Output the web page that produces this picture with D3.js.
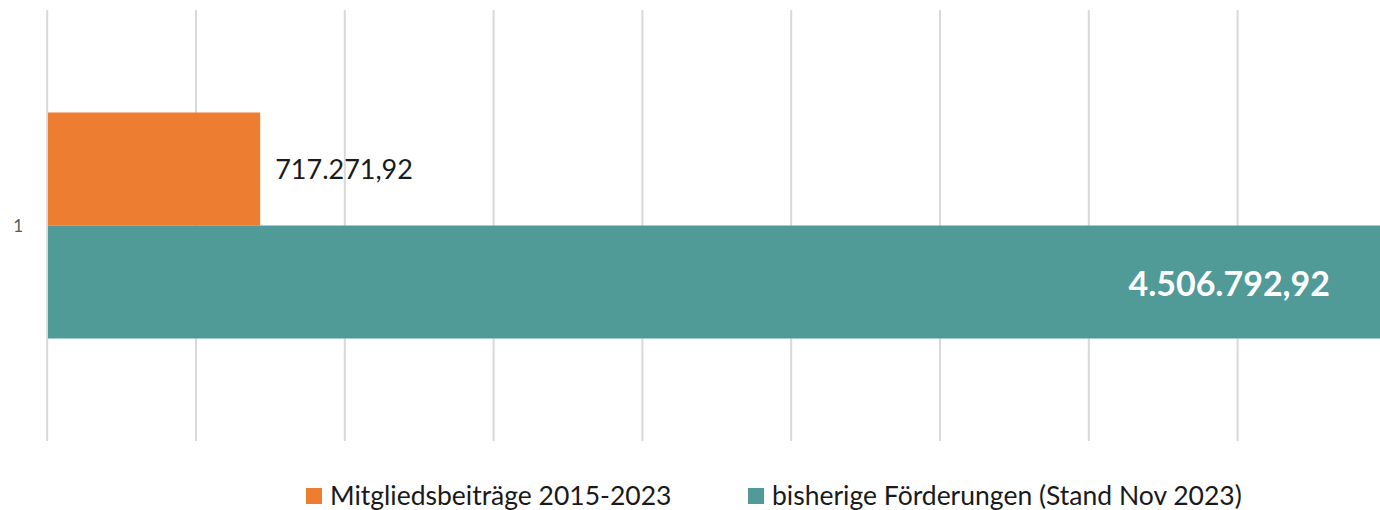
<!DOCTYPE html>
<html>
<head>
<meta charset="utf-8">
<title>Mitgliedsbeiträge und Förderungen</title>
<style>
body { margin: 0; background: #fff; }
svg { display: block; font-family: Lato, 'Open Sans', sans-serif; }
.grid line { stroke: #d9d9d9; stroke-width: 2; }
.grid .domain { display: none; }
</style>
</head>
<body>
<svg></svg>
<script src="https://d3js.org/d3.v7.min.js"></script>
<script>
const categories = ['1'];
const seriesNames = ['Mitgliedsbeiträge 2015-2023', 'bisherige Förderungen (Stand Nov 2023)'];
const seriesValues = [717271.92, 4506792.92];
const colors = ['#ed7d31', '#509a98'];
const xTicks = [0, 500000, 1000000, 1500000, 2000000, 2500000, 3000000, 3500000, 4000000, 4500000];

const width = 1380, height = 510;
const plot = { left: 46.7, right: 46.7 + 148.8 * 10, top: 10, bottom: 441 };

const de = d3.formatLocale({ decimal: ',', thousands: '.', grouping: [3], currency: ['', ' €'] });
const fmt = de.format(',.2f');

const svg = d3.select('svg').attr('width', width).attr('height', height);

const x = d3.scaleLinear([0, 5000000], [plot.left, plot.right]);
const y = d3.scaleBand(categories, [plot.top, plot.bottom]).paddingInner(0).paddingOuter(0.4535);
const ys = d3.scaleBand(d3.range(seriesValues.length), [0, y.bandwidth()]);

// vertical gridlines
svg.append('g')
   .attr('class', 'grid')
   .attr('transform', `translate(0, ${plot.top})`)
   .call(d3.axisBottom(x).tickValues(xTicks).tickSize(plot.bottom - plot.top).tickFormat(''));

// category label
svg.append('g')
   .selectAll('text')
   .data(categories)
   .join('text')
   .attr('x', 23)
   .attr('y', d => y(d) + y.bandwidth() / 2)
   .attr('text-anchor', 'end')
   .attr('dominant-baseline', 'central')
   .attr('fill', '#595959')
   .style('font-size', '17px')
   .text(d => d);

const bars = svg.append('g');
bars.selectAll('rect')
    .data(seriesValues)
    .join('rect')
    .attr('x', x(0) + 1.3)
    .attr('y', (d, i) => y(categories[0]) + ys(i))
    .attr('width', d => x(d) - x(0) - 1.3)
    .attr('height', ys.bandwidth())
    .attr('fill', (d, i) => colors[i]);

// data labels
svg.append('text')
   .attr('x', x(seriesValues[0]) + 15)
   .attr('y', y(categories[0]) + ys(0) + ys.bandwidth() / 2)
   .attr('dominant-baseline', 'central')
   .attr('fill', '#1a1a1a')
   .style('font-size', '27px')
   .text(fmt(seriesValues[0]));

svg.append('text')
   .attr('x', 1330)
   .attr('y', y(categories[0]) + ys(1) + ys.bandwidth() / 2)
   .attr('text-anchor', 'end')
   .attr('dominant-baseline', 'central')
   .attr('fill', '#fff')
   .style('font-size', '34px')
   .style('font-weight', 'bold')
   .text(fmt(seriesValues[1]));

// legend
const legendX = [306, 748];
const lg = svg.append('g')
   .selectAll('g')
   .data(seriesNames)
   .join('g')
   .attr('transform', (d, i) => `translate(${legendX[i]}, 495)`);
lg.append('rect')
  .attr('x', 0).attr('y', -7).attr('width', 16).attr('height', 16)
  .attr('fill', (d, i) => colors[i]);
lg.append('text')
  .attr('x', 24)
  .attr('dominant-baseline', 'central')
  .attr('fill', '#1a1a1a')
  .style('font-size', '26.5px')
  .text(d => d);
</script>
</body>
</html>
